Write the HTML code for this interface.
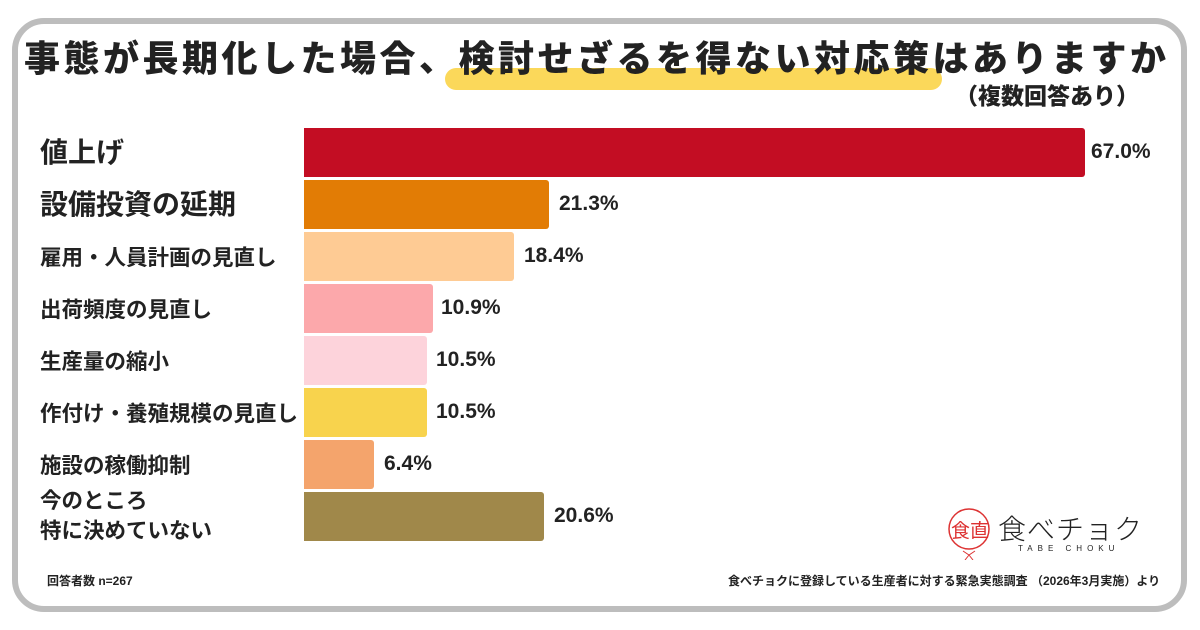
<!DOCTYPE html>
<html><head><meta charset="utf-8"><style>
body{margin:0;width:1200px;height:630px;background:#fff;font-family:"Liberation Sans","Noto Sans CJK JP",sans-serif;position:relative;overflow:hidden;color:#222}
.card{position:absolute;left:12px;top:18px;width:1163px;height:582px;border:6px solid #bdbdbd;border-radius:32px}
.t{position:absolute;font-weight:900;white-space:nowrap}
.bar{position:absolute;left:304px;height:49px;border-radius:0 3px 3px 0}
.lab{position:absolute;left:40px;font-weight:700;white-space:nowrap}
.val{position:absolute;font-weight:700;font-size:21px}
</style></head><body>
<div class="card"></div>
<div style="position:absolute;left:445px;top:68px;width:497px;height:22px;background:#fbd85a;border-radius:11px"></div>
<div class="t" style="left:24px;top:30px;font-size:36px;letter-spacing:3.5px">事態が長期化した場合、検討せざるを得ない対応策はありますか</div>
<div class="t" style="left:955px;top:77px;font-size:23px">（複数回答あり）</div>

<div class="bar" style="top:128px;width:781px;background:#c30d23"></div><div class="val" style="left:1091px;top:140px">67.0%</div>
<div class="bar" style="top:180px;width:245px;background:#e27c05"></div><div class="val" style="left:559px;top:192px">21.3%</div>
<div class="bar" style="top:232px;width:210px;background:#fecb94"></div><div class="val" style="left:524px;top:244px">18.4%</div>
<div class="bar" style="top:284px;width:129px;background:#fca8ab"></div><div class="val" style="left:441px;top:296px">10.9%</div>
<div class="bar" style="top:336px;width:123px;background:#fdd3db"></div><div class="val" style="left:436px;top:348px">10.5%</div>
<div class="bar" style="top:388px;width:123px;background:#f8d34d"></div><div class="val" style="left:436px;top:400px">10.5%</div>
<div class="bar" style="top:440px;width:70px;background:#f4a46c"></div><div class="val" style="left:384px;top:452px">6.4%</div>
<div class="bar" style="top:492px;width:240px;background:#a0884a"></div><div class="val" style="left:554px;top:504px">20.6%</div>

<div class="lab" style="top:131px;font-size:28px">値上げ</div>
<div class="lab" style="top:183px;font-size:28px">設備投資の延期</div>
<div class="lab" style="top:241px;font-size:21.5px">雇用・人員計画の見直し</div>
<div class="lab" style="top:293px;font-size:21.5px">出荷頻度の見直し</div>
<div class="lab" style="top:345px;font-size:21.5px">生産量の縮小</div>
<div class="lab" style="top:397px;font-size:21.5px">作付け・養殖規模の見直し</div>
<div class="lab" style="top:449px;font-size:21.5px">施設の稼働抑制</div>
<div class="lab" style="top:486px;font-size:21.5px;line-height:30px">今のところ<br>特に決めていない</div>

<svg style="position:absolute;left:945px;top:505px" width="50" height="55" viewBox="0 0 50 55"><circle cx="24" cy="24" r="20" fill="none" stroke="#d33" stroke-width="1.5"/><text x="6" y="32" font-size="19" fill="#d33" font-family="Noto Sans CJK JP">食直</text><path d="M18 46 l6 4 6-4 M24 50 l-4 5 M24 50 l4 5" stroke="#d33" fill="none"/></svg>
<div style="position:absolute;left:998px;top:508px;font-size:28px;font-weight:300;letter-spacing:1px">食べチョク</div>
<div style="position:absolute;left:1018px;top:544px;font-size:8px;letter-spacing:5px">TABE CHOKU</div>
<div class="t" style="left:47px;top:572px;font-size:12px;font-weight:700">回答者数 n=267</div>
<div class="t" style="left:728px;top:572px;font-size:12px;font-weight:700">食べチョクに登録している生産者に対する緊急実態調査 （2026年3月実施）より</div>
</body></html>
